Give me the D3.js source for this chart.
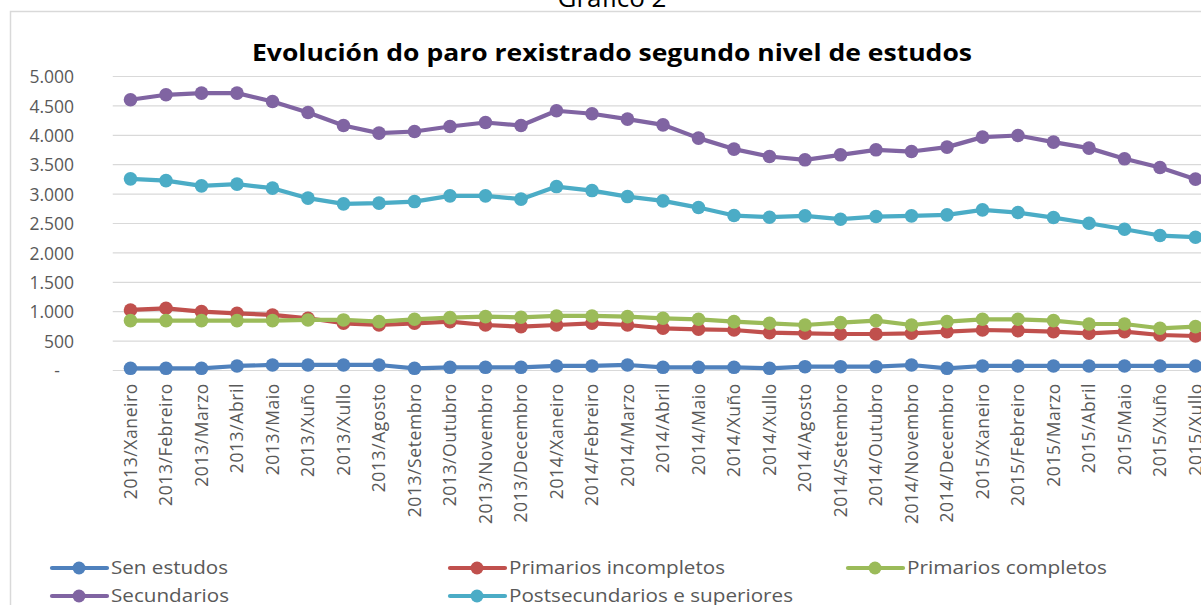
<!DOCTYPE html>
<html><head><meta charset="utf-8">
<script src="https://cdn.jsdelivr.net/npm/d3@7"></script>
<style>
html,body{margin:0;padding:0;background:#fff;overflow:hidden;}
svg{display:block;}
</style></head>
<body>
<div id="chart"></div>
<script>
const years = ["2013","2014","2015"];
const months = ["Xaneiro","Febreiro","Marzo","Abril","Maio","Xuño","Xullo","Agosto","Setembro","Outubro","Novembro","Decembro"];
const categories = [
  "2013/Xaneiro","2013/Febreiro","2013/Marzo","2013/Abril","2013/Maio","2013/Xuño","2013/Xullo","2013/Agosto","2013/Setembro","2013/Outubro","2013/Novembro","2013/Decembro",
  "2014/Xaneiro","2014/Febreiro","2014/Marzo","2014/Abril","2014/Maio","2014/Xuño","2014/Xullo","2014/Agosto","2014/Setembro","2014/Outubro","2014/Novembro","2014/Decembro",
  "2015/Xaneiro","2015/Febreiro","2015/Marzo","2015/Abril","2015/Maio","2015/Xuño","2015/Xullo"
];
const senEstudos = [37,37,37,77,94,94,94,94,37,54,54,54, 77,77,94,54,54,54,37,65,65,65,94,37, 77,77,77,77,77,77,77];
const primariosIncompletos = [1030,1058,1001,973,945,888,803,774,803,831,774,746, 774,803,774,718,701,689,643,633,621,621,633,660, 689,678,660,633,660,604,587];
const primariosCompletos = [848,848,848,848,848,860,860,831,871,899,916,905, 928,928,916,888,871,831,803,774,814,848,774,831, 871,871,848,791,791,718,746];
const secundarios = [4604,4689,4718,4718,4575,4388,4167,4037,4065,4150,4218,4167, 4417,4366,4275,4178,3952,3765,3639,3583,3668,3753,3724,3799, 3969,3997,3884,3782,3600,3452,3254];
const postsecundarios = [3259,3230,3140,3169,3101,2931,2834,2846,2873,2970,2970,2914, 3128,3060,2958,2885,2771,2635,2607,2630,2573,2618,2630,2647, 2732,2686,2601,2505,2403,2295,2267];
const seriesNames = ["Sen estudos","Primarios incompletos","Primarios completos","Secundarios","Postsecundarios e superiores"];
const seriesColors = ["#4F81BD","#C0504D","#9BBB59","#8064A2","#4BACC6"];
const yTicks = [0,500,1000,1500,2000,2500,3000,3500,4000,4500,5000];
const title = "Evolución do paro rexistrado segundo nivel de estudos";
const supTitle = "Gráfico 2";

const seriesValues = [senEstudos, primariosIncompletos, primariosCompletos, secundarios, postsecundarios];

const W = 1201, H = 605;
const svg = d3.select("#chart").append("svg").attr("width", W).attr("height", H);

// outer caption (cut off at top)
svg.append("text").attr("x", 612).attr("y", 7).attr("text-anchor","middle")
  .attr("font-family","'Open Sans', sans-serif").attr("font-size", 26).attr("fill","#000")
  .text(supTitle);

// chart frame
svg.append("rect").attr("x", 10.5).attr("y", 11.5).attr("width", W).attr("height", H)
  .attr("fill","#fff").attr("stroke","#D9D9D9").attr("stroke-width", 1.5);

const x = d3.scaleBand().domain(categories).range([112.75, 112.75 + 31*35.5]).padding(0);
const y = d3.scaleLinear().domain([0,5000]).range([370.5, 76.5]);
const xc = c => x(c) + x.bandwidth()/2;

// gridlines
svg.append("g").selectAll("line").data(yTicks).join("line")
  .attr("x1", 112.75).attr("x2", W).attr("y1", d=>y(d)).attr("y2", d=>y(d))
  .attr("stroke","#D9D9D9").attr("stroke-width",1.2);

// y axis labels
const fmt = v => v === 0 ? "-" : d3.format(",")(v).replace(/,/g,".");
const yAxis = d3.axisLeft(y).tickValues(yTicks).tickFormat(fmt).tickSize(0).tickPadding(0);
const gy = svg.append("g").attr("transform","translate(74,0)").call(yAxis);
gy.select(".domain").remove();
gy.selectAll("text").attr("font-family","'Open Sans', sans-serif").attr("font-size",17.5)
  .attr("fill","#595959").attr("dy","0.35em");
gy.selectAll(".tick").filter(d=>d===0).select("text").attr("dx",-14);

// x axis labels
const xAxis = d3.axisBottom(x).tickSize(0).tickPadding(0);
const gx = svg.append("g").attr("transform","translate(0,383)").call(xAxis);
gx.select(".domain").remove();
gx.selectAll("text").attr("font-family","'Open Sans', sans-serif").attr("font-size",17.5)
  .attr("letter-spacing",0.6)
  .attr("fill","#595959").attr("text-anchor","end")
  .attr("transform","rotate(-90)").attr("x",0).attr("y",0).attr("dy","0.35em").attr("dx",0);

// title
svg.append("text").attr("x", 612).attr("y", 61).attr("text-anchor","middle")
  .attr("font-family","'Open Sans', sans-serif").attr("font-weight","bold").attr("font-size",23)
  .attr("textLength",720).attr("lengthAdjust","spacingAndGlyphs").attr("fill","#000")
  .text(title);

// lines + markers
const line = d3.line().x((d,i)=>xc(categories[i])).y(d=>y(d));
seriesValues.forEach((vals, si) => {
  const g = svg.append("g");
  g.append("path").datum(vals).attr("d", line).attr("fill","none")
    .attr("stroke", seriesColors[si]).attr("stroke-width",4.2).attr("stroke-linejoin","round").attr("stroke-linecap","round");
  g.selectAll("circle").data(vals).join("circle")
    .attr("cx",(d,i)=>xc(categories[i])).attr("cy",d=>y(d)).attr("r",6.8)
    .attr("fill", seriesColors[si]);
});

// legend
const legendPos = [[52,568],[450,568],[848,568],[52,596],[450,596]];
const legendTextW = [117,216,200,118,284];
seriesNames.forEach((name, i) => {
  const [lx, ly] = legendPos[i];
  const g = svg.append("g");
  g.append("line").attr("x1",lx).attr("x2",lx+55).attr("y1",ly).attr("y2",ly)
    .attr("stroke",seriesColors[i]).attr("stroke-width",4.2).attr("stroke-linecap","round");
  g.append("circle").attr("cx",lx+27).attr("cy",ly).attr("r",6.5).attr("fill",seriesColors[i]);
  g.append("text").attr("x",lx+59).attr("y",ly).attr("dy","0.35em")
    .attr("font-family","'Open Sans', sans-serif").attr("font-size",18).attr("fill","#595959")
    .attr("textLength",legendTextW[i]).attr("lengthAdjust","spacingAndGlyphs")
    .text(name);
});
</script>
</body></html>
